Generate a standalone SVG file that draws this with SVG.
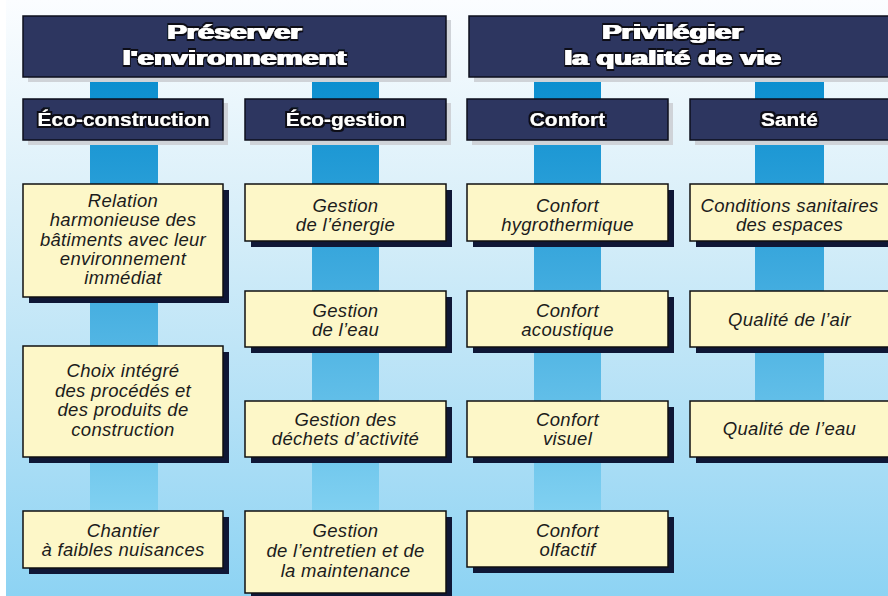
<svg xmlns="http://www.w3.org/2000/svg" width="888" height="596" viewBox="0 0 888 596">
<defs>
<linearGradient id="bg" x1="0" y1="0" x2="0" y2="596" gradientUnits="userSpaceOnUse">
<stop offset="0" stop-color="#fbfdff"/>
<stop offset="0.35" stop-color="#d9eff9"/>
<stop offset="0.7" stop-color="#b2e0f6"/>
<stop offset="1" stop-color="#8dd3f3"/>
</linearGradient>
<linearGradient id="bar" x1="0" y1="77" x2="0" y2="511" gradientUnits="userSpaceOnUse">
<stop offset="0" stop-color="#0b8ecf"/>
<stop offset="0.45" stop-color="#3eaade"/>
<stop offset="1" stop-color="#80d0f1"/>
</linearGradient>
<filter id="heavy" x="-10%" y="-40%" width="120%" height="180%">
<feMorphology in="SourceGraphic" operator="dilate" radius="0.4" result="w"/>
<feMorphology in="SourceAlpha" operator="dilate" radius="1.6" result="o"/>
<feFlood flood-color="#0a0c18"/>
<feComposite in2="o" operator="in" result="od"/>
<feMerge><feMergeNode in="od"/><feMergeNode in="w"/></feMerge>
</filter>
<style>
.hd{fill:#2d3660;stroke:#0d0f1c;stroke-width:1.5}
.hs{fill:#cfd3d8}
.bx{fill:#fdf7c8;stroke:#111;stroke-width:1.5}
.bs{fill:#0f1736}
.bar{fill:url(#bar)}
.ht{font-family:"Liberation Sans",Arial,sans-serif;font-weight:bold;fill:#fff;text-anchor:middle;filter:url(#heavy)}
.t1{font-size:20.5px}
.t2{font-size:19px}
.tx{font-family:"Liberation Sans",Arial,sans-serif;font-style:italic;font-size:18.5px;fill:#1c1c1c;text-anchor:middle;letter-spacing:0.3px}
</style>
</defs>
<rect x="0" y="0" width="888" height="596" fill="#ffffff"/>
<rect x="6" y="0" width="882" height="596" fill="url(#bg)"/>

<g id="connectors">
<rect class="bar" x="90" y="77" width="68" height="22"/>
<rect class="bar" x="312" y="77" width="67" height="22"/>
<rect class="bar" x="534" y="77" width="67" height="22"/>
<rect class="bar" x="755" y="77" width="69" height="22"/>
<rect class="bar" x="90" y="140" width="68" height="44"/>
<rect class="bar" x="90" y="297" width="68" height="49"/>
<rect class="bar" x="90" y="457" width="68" height="54"/>
<rect class="bar" x="312" y="140" width="67" height="44"/>
<rect class="bar" x="312" y="241" width="67" height="50"/>
<rect class="bar" x="312" y="347" width="67" height="54"/>
<rect class="bar" x="312" y="457" width="67" height="54"/>
<rect class="bar" x="534" y="140" width="67" height="44"/>
<rect class="bar" x="534" y="241" width="67" height="50"/>
<rect class="bar" x="534" y="347" width="67" height="54"/>
<rect class="bar" x="534" y="457" width="67" height="54"/>
<rect class="bar" x="755" y="140" width="69" height="44"/>
<rect class="bar" x="755" y="241" width="69" height="50"/>
<rect class="bar" x="755" y="347" width="69" height="54"/>
</g>

<g id="h-preserver">
<rect class="hs" x="28" y="20" width="423" height="62"/>
<rect class="hd" x="23" y="16" width="423" height="61"/>
<text class="ht t1" transform="translate(234.5 39) scale(1.42 1)">Préserver</text>
<text class="ht t1" transform="translate(234.5 65) scale(1.42 1)">l'environnement</text>
</g>
<g id="h-privilegier">
<rect class="hs" x="474" y="20" width="420" height="62"/>
<rect class="hd" x="469" y="16" width="425" height="61"/>
<text class="ht t1" transform="translate(672.5 39) scale(1.42 1)">Privilégier</text>
<text class="ht t1" transform="translate(672.5 65) scale(1.42 1)">la qualité de vie</text>
</g>

<g id="c-eco-construction">
<rect class="hs" x="28" y="103" width="200" height="42"/>
<rect class="hd" x="23" y="99" width="200" height="41"/>
<text class="ht t2" transform="translate(123.5 126) scale(1.1 1)">Éco-construction</text>
</g>
<g id="c-eco-gestion">
<rect class="hs" x="250" y="103" width="201" height="42"/>
<rect class="hd" x="245" y="99" width="201" height="41"/>
<text class="ht t2" transform="translate(345.5 126) scale(1.1 1)">Éco-gestion</text>
</g>
<g id="c-confort">
<rect class="hs" x="472" y="103" width="201" height="42"/>
<rect class="hd" x="467" y="99" width="201" height="41"/>
<text class="ht t2" transform="translate(567.5 126) scale(1.1 1)">Confort</text>
</g>
<g id="c-sante">
<rect class="hs" x="695" y="103" width="200" height="42"/>
<rect class="hd" x="690" y="99" width="200" height="41"/>
<text class="ht t2" transform="translate(789.5 126) scale(1.1 1)">Santé</text>
</g>

<g id="n-relation">
<rect class="bs" x="29" y="190" width="200" height="113"/>
<rect class="bx" x="23" y="184" width="200" height="113"/>
<text class="tx" x="123" y="206.5">Relation</text>
<text class="tx" x="123" y="226">harmonieuse des</text>
<text class="tx" x="123" y="245.5">bâtiments avec leur</text>
<text class="tx" x="123" y="264.5">environnement</text>
<text class="tx" x="123" y="284">immédiat</text>
</g>
<g id="n-choix">
<rect class="bs" x="29" y="352" width="200" height="111"/>
<rect class="bx" x="23" y="346" width="200" height="111"/>
<text class="tx" x="123" y="377">Choix intégré</text>
<text class="tx" x="123" y="396.5">des procédés et</text>
<text class="tx" x="123" y="416">des produits de</text>
<text class="tx" x="123" y="435.5">construction</text>
</g>
<g id="n-chantier">
<rect class="bs" x="29" y="517" width="200" height="57"/>
<rect class="bx" x="23" y="511" width="200" height="57"/>
<text class="tx" x="123" y="536.5">Chantier</text>
<text class="tx" x="123" y="556">à faibles nuisances</text>
</g>

<g id="n-energie">
<rect class="bs" x="251" y="190" width="201" height="57"/>
<rect class="bx" x="245" y="184" width="201" height="57"/>
<text class="tx" x="345.5" y="211.5">Gestion</text>
<text class="tx" x="345.5" y="230.5">de l’énergie</text>
</g>
<g id="n-eau">
<rect class="bs" x="251" y="297" width="201" height="56"/>
<rect class="bx" x="245" y="291" width="201" height="56"/>
<text class="tx" x="345.5" y="316.5">Gestion</text>
<text class="tx" x="345.5" y="335.5">de l’eau</text>
</g>
<g id="n-dechets">
<rect class="bs" x="251" y="407" width="201" height="56"/>
<rect class="bx" x="245" y="401" width="201" height="56"/>
<text class="tx" x="345.5" y="425.5">Gestion des</text>
<text class="tx" x="345.5" y="445">déchets d’activité</text>
</g>
<g id="n-entretien">
<rect class="bs" x="251" y="517" width="201" height="82"/>
<rect class="bx" x="245" y="511" width="201" height="82"/>
<text class="tx" x="345.5" y="536.5">Gestion</text>
<text class="tx" x="345.5" y="556.5">de l’entretien et de</text>
<text class="tx" x="345.5" y="576.5">la maintenance</text>
</g>

<g id="n-hygro">
<rect class="bs" x="473" y="190" width="201" height="57"/>
<rect class="bx" x="467" y="184" width="201" height="57"/>
<text class="tx" x="567.5" y="211.5">Confort</text>
<text class="tx" x="567.5" y="230.5">hygrothermique</text>
</g>
<g id="n-acoustique">
<rect class="bs" x="473" y="297" width="201" height="56"/>
<rect class="bx" x="467" y="291" width="201" height="56"/>
<text class="tx" x="567.5" y="316.5">Confort</text>
<text class="tx" x="567.5" y="335.5">acoustique</text>
</g>
<g id="n-visuel">
<rect class="bs" x="473" y="407" width="201" height="56"/>
<rect class="bx" x="467" y="401" width="201" height="56"/>
<text class="tx" x="567.5" y="425.5">Confort</text>
<text class="tx" x="567.5" y="444.5">visuel</text>
</g>
<g id="n-olfactif">
<rect class="bs" x="473" y="517" width="201" height="56"/>
<rect class="bx" x="467" y="511" width="201" height="56"/>
<text class="tx" x="567.5" y="536.5">Confort</text>
<text class="tx" x="567.5" y="556">olfactif</text>
</g>

<g id="n-conditions">
<rect class="bs" x="696" y="190" width="200" height="57"/>
<rect class="bx" x="690" y="184" width="200" height="57"/>
<text class="tx" x="789.5" y="211.5">Conditions sanitaires</text>
<text class="tx" x="789.5" y="230.5">des espaces</text>
</g>
<g id="n-air">
<rect class="bs" x="696" y="297" width="200" height="56"/>
<rect class="bx" x="690" y="291" width="200" height="56"/>
<text class="tx" x="789.5" y="326">Qualité de l’air</text>
</g>
<g id="n-qeau">
<rect class="bs" x="696" y="407" width="200" height="56"/>
<rect class="bx" x="690" y="401" width="200" height="56"/>
<text class="tx" x="789.5" y="435">Qualité de l’eau</text>
</g>
</svg>
